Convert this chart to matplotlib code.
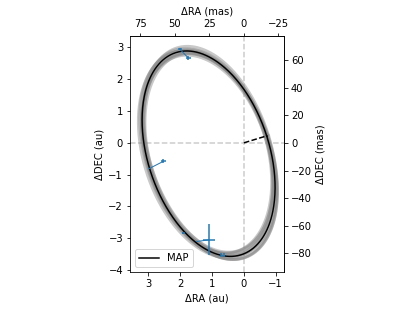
import numpy as np
import matplotlib
matplotlib.use("Agg")
import matplotlib.pyplot as plt
from matplotlib.lines import Line2D

# --- data -----------------------------------------------------------------
plx = 23.0  # mas per au

# MAP orbit (Thiele-Innes constants, au) and eccentricity
ti_A, ti_B, ti_F, ti_G = 0.56, -1.826, 4.005, 1.282
ecc = 0.608

# posterior draws: scale on the orbit size, eccentricity offset, rotation
draw_scale = [0.97, 0.98, 0.99, 1.00, 1.01, 1.02, 1.03, 0.985, 1.015, 1.0, 0.99, 1.01]
draw_decc = [0.010, -0.010, 0.015, -0.015, 0.005, -0.005, 0.020, 0.000, -0.020, 0.035, 0.03, -0.03]
draw_rot = [0.02, -0.02, 0.01, -0.01, 0.03, -0.03, 0.00, 0.015, -0.015, 0.025, 0.0, 0.01]

# astrometry (au)
obs_ra = [2.01, 1.75, 2.53, 1.90, 1.10, 0.72, 0.62]
obs_dec = [2.94, 2.67, -0.58, -2.83, -3.05, -3.53, -3.53]
obs_ra_err = [0.05, 0.08, 0.09, 0.04, 0.20, 0.01, 0.01]
obs_dec_err = [0.03, 0.07, 0.06, 0.02, 0.49, 0.07, 0.07]
# model positions at the observing epochs
mod_ra = [2.01, 2.01, 3.00, 1.90, 1.48, 0.62, 0.72]
mod_dec = [2.94, 2.94, -0.82, -2.83, -3.10, -3.53, -3.53]


def orbit_track(A, B, F, G, e, n=400):
    E = np.linspace(0, 2 * np.pi, n)
    X = np.cos(E) - e
    Y = np.sqrt(1 - e**2) * np.sin(E)
    return B * X + G * Y, A * X + F * Y


fig = plt.figure(figsize=(415 / 72, 311 / 72), dpi=72)
ax = fig.add_axes([0.3133, 0.1254, 0.371, 0.759])

ax.axhline(0, color="#cccccc", ls="--", lw=1.5, zorder=0)
ax.axvline(0, color="#cccccc", ls="--", lw=1.5, zorder=0)

# gray posterior orbits
for s, de, rot in zip(draw_scale, draw_decc, draw_rot):
    c, sn = np.cos(rot), np.sin(rot)
    B = s * (c * ti_B - sn * ti_A)
    A = s * (sn * ti_B + c * ti_A)
    G = s * (c * ti_G - sn * ti_F)
    F = s * (sn * ti_G + c * ti_F)
    x, y = orbit_track(A, B, F, G, ecc + de)
    ax.plot(x, y, color="#888888", alpha=0.45, lw=2.5, zorder=1)

# MAP orbit
x, y = orbit_track(ti_A, ti_B, ti_F, ti_G, ecc)
ax.plot(x, y, color="k", lw=1.5, zorder=3)

# star -> periastron
ax.plot([0, (1 - ecc) * ti_B], [0, (1 - ecc) * ti_A], "k--", lw=1.5, zorder=3)

# data and residual lines
for i in range(len(obs_ra)):
    ax.plot([obs_ra[i], mod_ra[i]], [obs_dec[i], mod_dec[i]],
            color="C0", lw=1, zorder=4)
ax.errorbar(obs_ra, obs_dec, xerr=obs_ra_err, yerr=obs_dec_err,
            fmt="none", ecolor="C0", elinewidth=1.5, zorder=5)

ax.set_xlim(3.58, -1.26)
ax.set_ylim(-4.06, 3.36)
ax.set_xticks([3, 2, 1, 0, -1])
ax.set_yticks([-4, -3, -2, -1, 0, 1, 2, 3])
ax.set_xlabel("ΔRA (au)")
ax.set_ylabel("ΔDEC (au)")

top = ax.secondary_xaxis("top", functions=(lambda v: v * plx, lambda v: v / plx))
top.set_xlabel("ΔRA (mas)")
top.set_xticks([75, 50, 25, 0, -25])
right = ax.secondary_yaxis("right", functions=(lambda v: v * plx, lambda v: v / plx))
right.set_ylabel("ΔDEC (mas)")
right.set_yticks([60, 40, 20, 0, -20, -40, -60, -80])

ax.legend(handles=[Line2D([], [], color="k", lw=1.5, label="MAP")],
          loc="lower left")

fig.savefig("out.png", dpi=72)
